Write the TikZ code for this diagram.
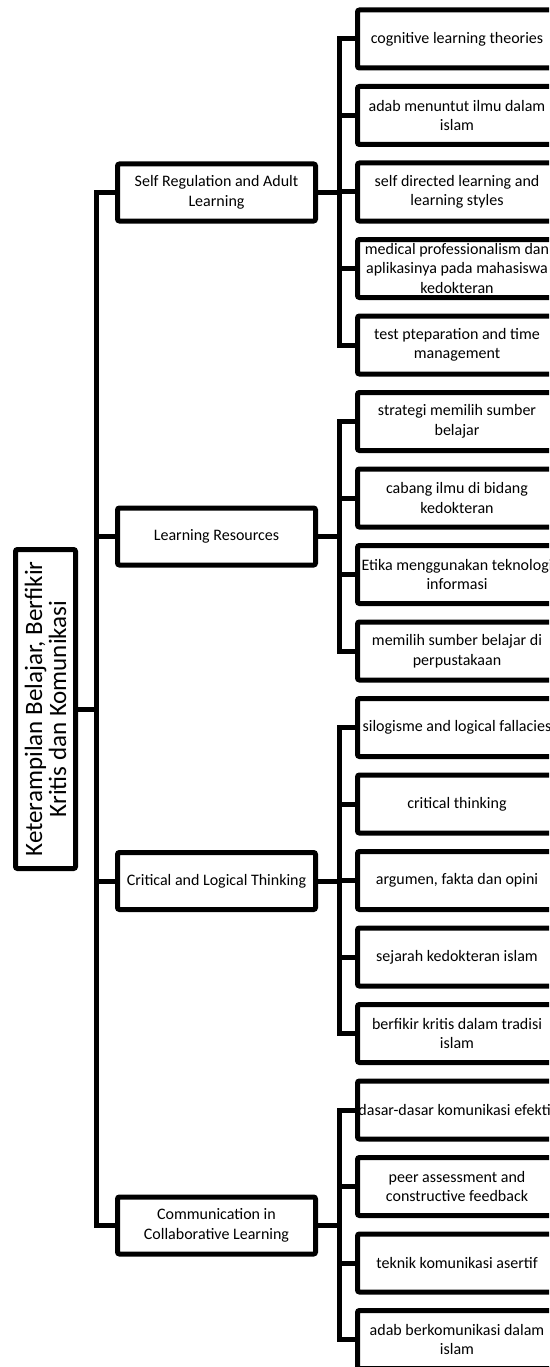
\documentclass[tikz,border=0pt]{standalone}
\usepackage{fontspec}
\setmainfont{Carlito}
\begin{document}
\begin{tikzpicture}[x=1pt,y=-1pt,
  box/.style={draw=black, line width=5pt, rounded corners=2pt, fill=white, align=center, inner sep=0pt},
  leaf/.style={box, minimum width=199pt, minimum height=58pt, font=\fontsize{16}{19.5}\selectfont},
  mid/.style={box, minimum width=198pt, minimum height=57pt, font=\fontsize{16}{19.5}\selectfont},
  link/.style={line width=5pt, line cap=rect}]
\useasboundingbox (0,0) rectangle (549,1367);
\clip (0,0) rectangle (549,1367);
% root
\node[box, rotate=90, minimum width=319pt, minimum height=60pt, font=\fontsize{25}{24}\selectfont] (root) at (45.5,709)
  {Keterampilan Belajar, Berfikir\\Kritis dan Komunikasi};
% level 1
\node[mid] (l1) at (216.5,192.5) {Self Regulation and Adult\\Learning};
\node[mid] (l2) at (216.5,536.5) {Learning Resources};
\node[mid] (l3) at (216.5,881) {Critical and Logical Thinking};
\node[mid] (l4) at (216.5,1225.5) {Communication in\\Collaborative Learning};
% leaves
\node[leaf] (c1) at (457,39) {cognitive learning theories};
\node[leaf] (c2) at (457,115.5) {adab menuntut ilmu dalam\\islam};
\node[leaf] (c3) at (457,192) {self directed learning and\\learning styles};
\node[leaf] (c4) at (457,268.5) {medical professionalism dan\\aplikasinya pada mahasiswa\\kedokteran};
\node[leaf] (c5) at (457,345) {test pteparation and time\\management};
\node[leaf] (c6) at (457,421.5) {strategi memilih sumber\\belajar};
\node[leaf] (c7) at (457,498) {cabang ilmu di bidang\\kedokteran};
\node[leaf] (c8) at (457,574.5) {Etika menggunakan teknologi\\informasi};
\node[leaf] (c9) at (457,651) {memilih sumber belajar di\\perpustakaan};
\node[leaf] (c10) at (457,727.5) {silogisme and logical fallacies};
\node[leaf] (c11) at (457,804) {critical thinking};
\node[leaf] (c12) at (457,880.5) {argumen, fakta dan opini};
\node[leaf] (c13) at (457,957) {sejarah kedokteran islam};
\node[leaf] (c14) at (457,1033.5) {berfikir kritis dalam tradisi\\islam};
\node[leaf] (c15) at (457,1110) {dasar-dasar komunikasi efektif};
\node[leaf] (c16) at (457,1186.5) {peer assessment and\\constructive feedback};
\node[leaf] (c17) at (457,1263) {teknik komunikasi asertif};
\node[leaf] (c18) at (457,1339.5) {adab berkomunikasi dalam\\islam};
% trunks
\coordinate (t0) at (96,0);
\coordinate (t1) at (339,0);
\draw[link] (root.south) -- (root.south -| t0);
\foreach \l in {l1,l2,l3,l4} {
  \draw[link] (root.south -| t0) |- (\l.west);
}
\foreach \c in {c1,c2,c3,c4,c5} { \draw[link] (l1.east) -- (l1.east -| t1) |- (\c.west); }
\foreach \c in {c6,c7,c8,c9} { \draw[link] (l2.east) -- (l2.east -| t1) |- (\c.west); }
\foreach \c in {c10,c11,c12,c13,c14} { \draw[link] (l3.east) -- (l3.east -| t1) |- (\c.west); }
\foreach \c in {c15,c16,c17,c18} { \draw[link] (l4.east) -- (l4.east -| t1) |- (\c.west); }
\end{tikzpicture}
\end{document}
